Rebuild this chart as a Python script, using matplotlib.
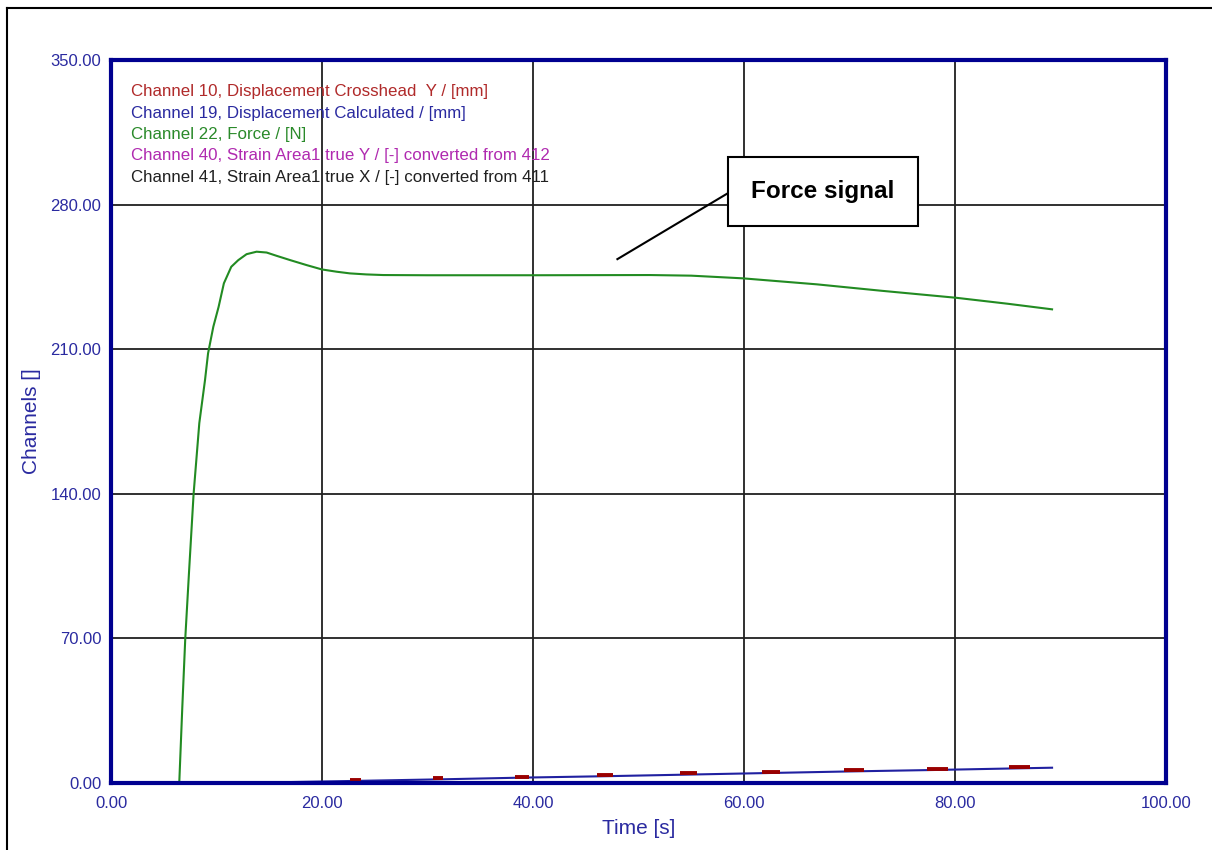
import numpy as np
import matplotlib.pyplot as plt
from matplotlib.patches import Rectangle
from matplotlib.lines import Line2D

plt.rcParams['font.family'] = ['Liberation Sans', 'DejaVu Sans']

# force channel (time [s], force [N])
force_t = [6.47, 6.76, 7.04, 7.39, 7.83, 8.37, 8.91, 9.2, 9.7, 10.2, 10.7, 11.4, 12.06,
           12.85, 13.8, 14.75, 15.7, 17.0, 18.55, 20.0, 21.4, 22.65, 24.2, 25.8, 30.0,
           40.0, 51.1, 55.0, 59.9, 66.9, 73.0, 80.1, 85.0, 89.2]
force_v = [0.0, 36.9, 70.0, 101.6, 140.0, 174.2, 195.0, 208.0, 220.9, 230.5, 241.9, 249.9, 253.1,
           256.0, 257.2, 256.8, 255.2, 253.1, 250.7, 248.6, 247.5, 246.7, 246.2, 245.9, 245.8,
           245.8, 245.9, 245.6, 244.3, 241.4, 238.3, 234.9, 232.0, 229.3]

# displacement calculated (blue)
disp_t = [6.5, 12.0, 23.0, 31.5, 39.0, 47.0, 55.0, 62.0, 70.0, 78.0, 85.0, 89.2]
disp_v = [0.0, 0.0, 1.0, 1.8, 2.6, 3.3, 4.1, 4.8, 5.6, 6.3, 7.0, 7.4]

# crosshead displacement (red), only short pieces visible above the blue line
cross_t0 = [22.7, 30.5, 38.3, 46.1, 53.9, 61.7, 69.5, 77.3, 85.1]
cross_t1 = [23.7, 31.5, 39.6, 47.6, 55.5, 63.4, 71.4, 79.3, 87.1]
cross_v = [1.5, 2.3, 3.1, 3.9, 4.6, 5.4, 6.1, 6.9, 7.6]

legend_lines = ["Channel 10, Displacement Crosshead  Y / [mm]",
                "Channel 19, Displacement Calculated / [mm]",
                "Channel 22, Force / [N]",
                "Channel 40, Strain Area1 true Y / [-] converted from 412",
                "Channel 41, Strain Area1 true X / [-] converted from 411"]
legend_colors = ['#b02a2a', '#2a2aa0', '#2a8a2a', '#b02ab0', '#202020']

xticks = [0, 20, 40, 60, 80, 100]
yticks = [0, 70, 140, 210, 280, 350]

blue_txt = '#2a2aa0'
frame_col = '#000090'

fig = plt.figure(figsize=(12.12, 8.5), dpi=100)
ax = fig.add_axes([111/1212, 67/850, 1055/1212, 723/850])

ax.set_xlim(0, 100)
ax.set_ylim(0, 350)
ax.set_xticks(xticks)
ax.set_yticks(yticks)
ax.set_xticklabels(['%.2f' % v for v in xticks])
ax.set_yticklabels(['%.2f' % v for v in yticks])
ax.tick_params(length=0, labelsize=12, labelcolor=blue_txt)
ax.tick_params(axis='x', pad=9)
ax.tick_params(axis='y', pad=7)
ax.grid(True, color='#202020', linewidth=1.3)
ax.set_axisbelow(True)
for s in ax.spines.values():
    s.set_color(frame_col)
    s.set_linewidth(3)
    s.set_zorder(5)

ax.set_xlabel('Time [s]', color=blue_txt, fontsize=15, labelpad=6)
ax.set_ylabel('Channels []', color=blue_txt, fontsize=15, labelpad=7)

ax.plot(disp_t, disp_v, color='#2020a0', linewidth=1.5, zorder=3)
for t0, t1, v in zip(cross_t0, cross_t1, cross_v):
    ax.plot([t0, t1], [v, v], color='#9a0000', linewidth=2.8, solid_capstyle='butt', zorder=3)
ax.plot(force_t, force_v, color='#228b22', linewidth=1.5, zorder=3)

for i, (txt, c) in enumerate(zip(legend_lines, legend_colors)):
    ax.text(0.019, 0.956 - i * 0.0295, txt, transform=ax.transAxes, color=c,
            fontsize=12.2, va='center', ha='left', zorder=6)

# annotation box
ax.plot([48.0, 58.5], [253.6, 285.6], color='black', linewidth=1.5, zorder=6)
ax.add_patch(Rectangle((58.5, 269.6), 18.0, 33.4, facecolor='white', edgecolor='black',
                       linewidth=1.5, zorder=7))
ax.text(67.5, 286.3, 'Force signal', fontsize=17.5, fontweight='bold', ha='center',
        va='center', zorder=8)

# outer frame (cropped screenshot)
fig.add_artist(Line2D([7/1212, 1], [1 - 8/850, 1 - 8/850], color='black', linewidth=1.5,
                      transform=fig.transFigure))
fig.add_artist(Line2D([7/1212, 7/1212], [0, 1 - 8/850], color='black', linewidth=1.5,
                      transform=fig.transFigure))

fig.savefig('out.png', dpi=100)
